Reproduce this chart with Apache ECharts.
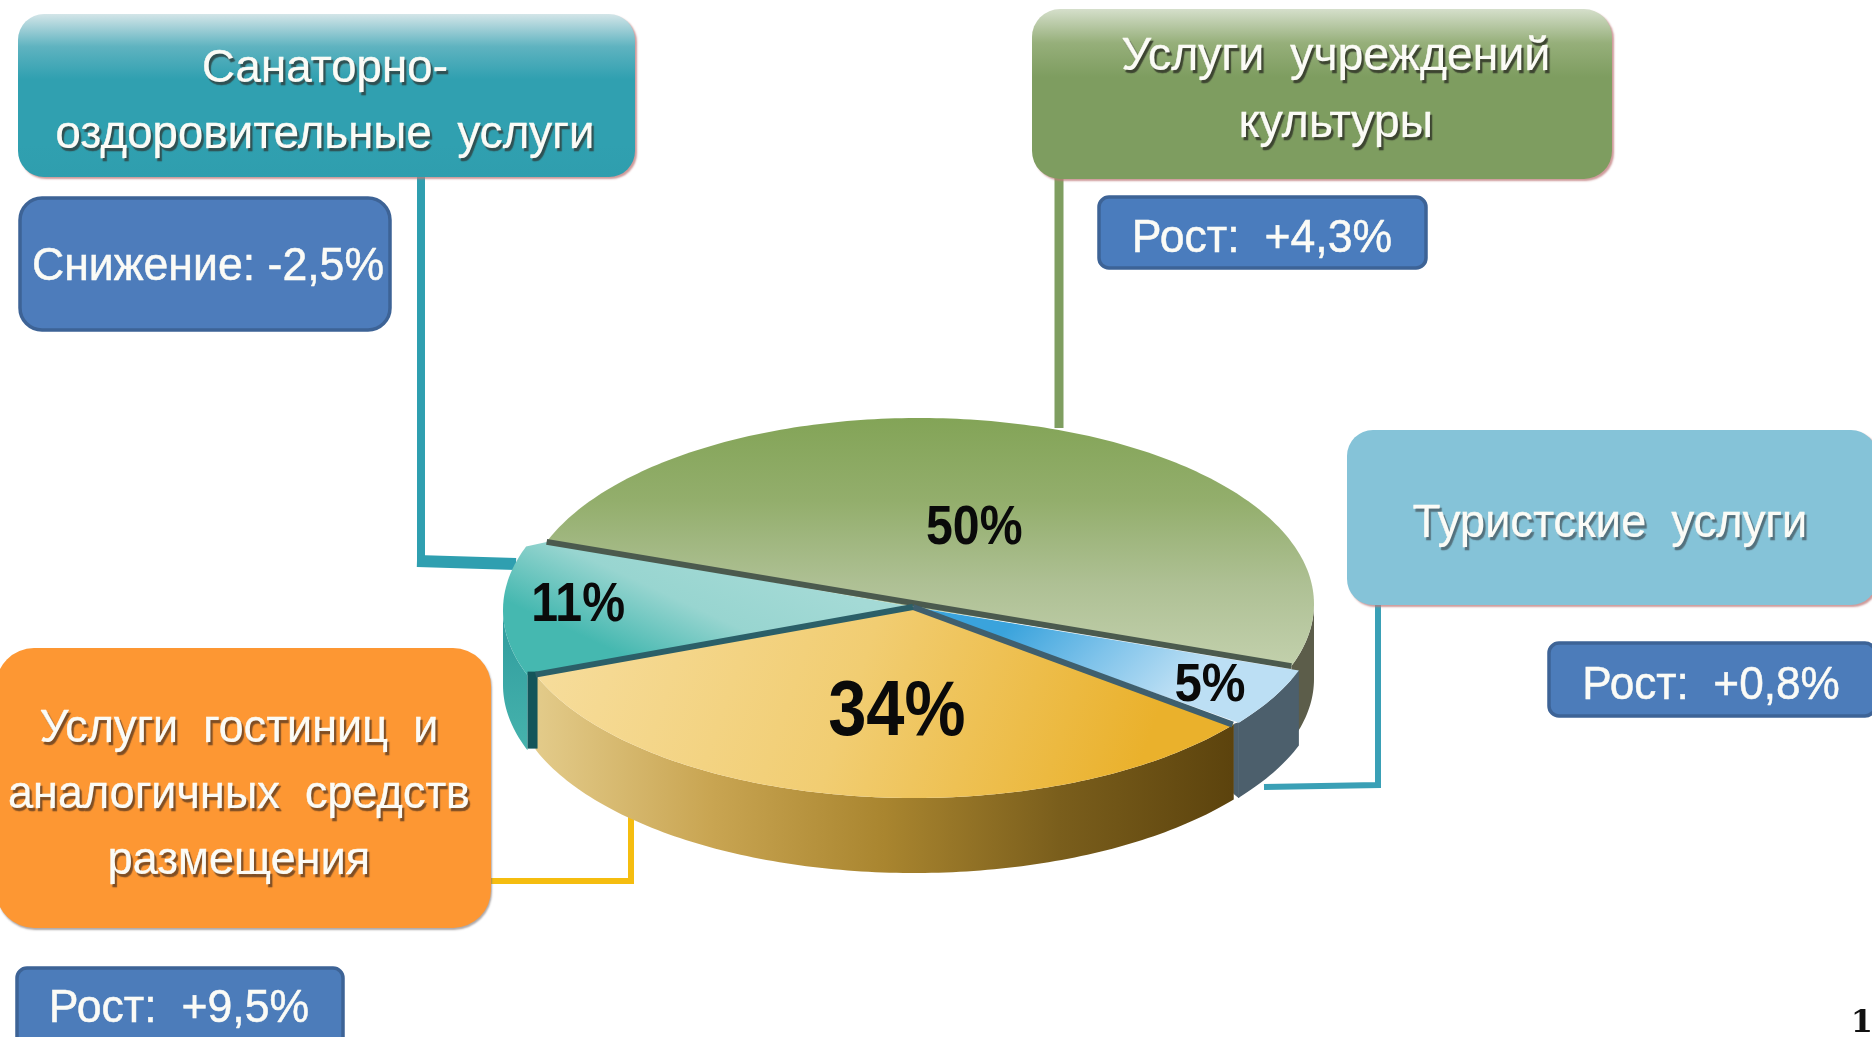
<!DOCTYPE html>
<html><head><meta charset="utf-8">
<style>html,body{margin:0;padding:0;background:#fff}#c{width:1872px;height:1037px}</style>
<script src="https://cdn.jsdelivr.net/npm/echarts@6/dist/echarts.min.js"></script>
</head><body><div id="c"></div>
<script>
// ---- data (order: clockwise from the left of the 50% slice)
const sliceNames  = ['Услуги  учреждений\nкультуры','Туристские  услуги','Услуги  гостиниц  и\nаналогичных  средств\nразмещения','Санаторно-\nоздоровительные  услуги'];
const sliceShares = [50, 5, 34, 11];
const changeLabels = ['Рост:  +4,3%','Рост:  +0,8%','Рост:  +9,5%','Снижение: -2,5%'];
const pageNumber = '1';

// ---- layout and style
const FONT = '"Liberation Sans", Arial, sans-serif';
const pie = {cx:913, cy:607, depth:75, start:199.5};
// each slice is pulled a little off the common centre, as in the picture
const rims = [
  {cx:919,cy:604,rx:395,ry:186},
  {cx:919,cy:607,rx:403,ry:190},
  {cx:914,cy:610,rx:403,ry:188},
  {cx:906,cy:610,rx:403,ry:190}
];
const lin = (x,y,x2,y2,...stops) => ({type:'linear',x,y,x2,y2,colorStops:stops.map((c,i)=>({offset:i/(stops.length-1),color:c}))});
const faceFill = [
  lin(0,0,0,1,'#83a457','#93ae6c','#aec094','#c2d0ac'),
  lin(0.3,0,0.6,1,'#3aa3dc','#7dc2ea','#bcdff4'),
  lin(0.05,0,0.85,1,'#f6dc9a','#f1cd72','#eab12c'),
  lin(0.55,0,0.4,1,'#a4dad6','#98d5d0','#45b8b0')
];
const wallFill = ['#5c5d4a','#4c5f6c',lin(0,0,1,0,'#e3cb8a','#c9a552','#a9852f','#7a5e1c','#5c430d'),lin(0,0,0,1,'#2f9b9d','#46b3ad')];
const edgeColor = ['#4b5a4e','#4b5a4e','#2b5f68','#4b5a4e'];
const labelAt = [[0.152,-0.412],[0.737,0.416],[-0.04,0.563],[-0.831,-0.005]];
const labelFont = [[56,0.86],[54,0.91],[78,0.88],[56,0.86]];
const P = (i,deg,dy=0)=>{const a=deg*Math.PI/180,r=rims[i];return [r.cx+r.rx*Math.cos(a),r.cy+r.ry*Math.sin(a)+dy];};
const REF={rx:403,ry:190};

function renderSlice(params, api){
  const i = params.dataIndex;
  const total = sliceShares.reduce((s,v)=>s+v,0);
  let before = 0; for(let k=0;k<i;k++) before += sliceShares[k];
  const a0 = pie.start + before/total*360, a1 = a0 + api.value(0)/total*360;
  const arc=[]; for(let a=a0;a<a1;a+=1) arc.push(P(i,a)); arc.push(P(i,a1));
  if(i===3) arc.push(P(0,a1)); // closes the wedge up to the green slice's corner
  const kids=[];
  // visible wall = part of the rim on the front half of the ellipse
  for(const [s,e] of [[0,180],[360,540]]){
    const w0=Math.max(a0,s), w1=Math.min(a1,e);
    if(w1>w0){
      const top=[],bot=[];
      for(let a=w0;a<w1;a+=1){top.push(P(i,a));bot.unshift(P(i,a,pie.depth));}
      top.push(P(i,w1));bot.unshift(P(i,w1,pie.depth));
      kids.push({type:'polygon',z2:1,shape:{points:top.concat(bot)},style:{fill:wallFill[i]}});
    }
  }
  if(i===1){ // cut face closing the gap to the gold wall
    const e=P(1,a1), n=P(2,a1);
    kids.push({type:'polygon',z2:1,shape:{points:[e,[e[0],e[1]+pie.depth],[n[0],n[1]+pie.depth-6],n]},style:{fill:wallFill[1],stroke:wallFill[1],lineWidth:1}});
  }
  kids.push({type:'polygon',z2:2,shape:{points:[[pie.cx,pie.cy]].concat(arc)},style:{fill:faceFill[i]}});
  const rim=P(i,a0);
  if(i===0){ // separators on both ends of the green slice
    const e=P(0,a1);
    kids.push({type:'line',z2:3,shape:{x1:rim[0],y1:rim[1],x2:e[0],y2:e[1]},style:{stroke:edgeColor[0],lineWidth:6}});
  }
  if(i===1){ // separator blue / gold, ends at the blue rim
    const e=P(1,a1);
    kids.push({type:'line',z2:3,shape:{x1:pie.cx,y1:pie.cy,x2:e[0]-6,y2:e[1]+2},style:{stroke:'#3f5f6e',lineWidth:6}});
  }
  if(i===2){ // cut face and separator where the teal slice meets the gold one
    const e=P(2,a1);
    kids.push({type:'line',z2:3,shape:{x1:e[0]-3,y1:e[1]-3,x2:e[0]-3,y2:e[1]+pie.depth-1},style:{stroke:'#13555a',lineWidth:10}});
    kids.push({type:'line',z2:3,shape:{x1:pie.cx,y1:pie.cy,x2:e[0],y2:e[1]},style:{stroke:'#2b5f68',lineWidth:6}});
  }
  kids.push({type:'text',z2:4,x:pie.cx+labelAt[i][0]*REF.rx,y:pie.cy+labelAt[i][1]*REF.ry,scaleX:labelFont[i][1],
    style:{text:api.value(0)+'%',fill:'#0a0a0a',font:'bold '+labelFont[i][0]+'px '+FONT,textAlign:'center',textVerticalAlign:'middle'}});
  return {type:'group',children:kids};
}

// ---- callouts
function box(x,y,w,h,r,fill,extra){
  return {type:'rect',z:5,shape:{x,y,width:w,height:h,r},style:Object.assign({fill},extra||{})};
}
function txt(t,x,y,size,sx,shadow,lh){
  const s={text:t,fill:'#fbfbf6',stroke:'#fbfbf6',lineWidth:0.5,font:size+'px '+FONT,textAlign:'center',textVerticalAlign:'middle',lineHeight:lh||size};
  if(shadow){s.textShadowColor=shadow;s.textShadowBlur=1;s.textShadowOffsetX=2;s.textShadowOffsetY=3;}
  return {type:'text',z:6,x,y,scaleX:sx,style:s};
}
function conn(points,color,w){
  return {type:'polyline',z:0,shape:{points},style:{stroke:color,lineWidth:w,fill:'none',lineJoin:'miter'}};
}
const pinkEdge={shadowColor:'rgba(190,120,120,.75)',shadowBlur:2,shadowOffsetX:2,shadowOffsetY:2};
const greyEdge={shadowColor:'rgba(120,110,110,.6)',shadowBlur:2,shadowOffsetX:1,shadowOffsetY:2};
const blue={stroke:'#3d6396',lineWidth:3.5};

const graphicEls=[
  conn([[421,177],[421,560]],'#2f9fb0',8),
  conn([[417,561],[516,564]],'#2f9fb0',12),
  conn([[1059,178],[1059,428]],'#7f9e60',9),
  conn([[1378,604],[1378,785],[1264,787]],'#3aa0b6',6),
  conn([[490,881],[631,881],[631,815]],'#f5bd0f',6),

  box(18,14,617,163,26,lin(0,0,0,1,'#d3e5e8','#5fb3c0','#30a0b0','#30a0b0','#30a0b0','#2f9eae'),pinkEdge),
  txt(sliceNames[3],325,102,46,0.995,'#2f5052',66),
  box(20,198,370,132,22,'#4d7cbb',blue),
  txt(changeLabels[3],208,267,46,0.97,null),

  box(1032,9,580,170,28,lin(0,0,0,1,'#d5dfcb','#96af7a','#7e9d60','#7e9d60','#7e9d60','#7e9d60'),pinkEdge),
  txt(sliceNames[0],1336,91,46,1.01,'#3c4430',67),
  box(1099,197,327,71,10,'#4a7cbd',blue),
  txt(changeLabels[0],1262,239,46,0.97,null),

  box(1347,430,530,175,26,'#85c3d8',pinkEdge),
  txt(sliceNames[1],1610,524,46,0.985,'#53707c'),
  box(1549,643,326,73,10,'#4c7cba',blue),
  txt(changeLabels[1],1711,686,46,0.96,null),

  box(-4,648,495,280,38,'#fd9733',greyEdge),
  txt(sliceNames[2],239,795,46,0.98,'#7d4d24',66),
  box(17,968,326,80,10,'#4c7cba',blue),
  txt(changeLabels[2],179,1009,46,0.97,null),

  {type:'text',z:6,x:1862,y:1024,style:{text:pageNumber,fill:'#111',font:'bold 32px "DejaVu Serif", serif',textAlign:'center',textVerticalAlign:'middle'}}
];

const chart=echarts.init(document.getElementById('c'),null,{renderer:'canvas'});
chart.setOption({
  backgroundColor:'#ffffff',
  animation:false,
  graphic:{elements:graphicEls},
  series:[{type:'custom',coordinateSystem:'none',z:2,silent:true,data:sliceShares.map(v=>[v]),renderItem:renderSlice}]
});
</script></body></html>
